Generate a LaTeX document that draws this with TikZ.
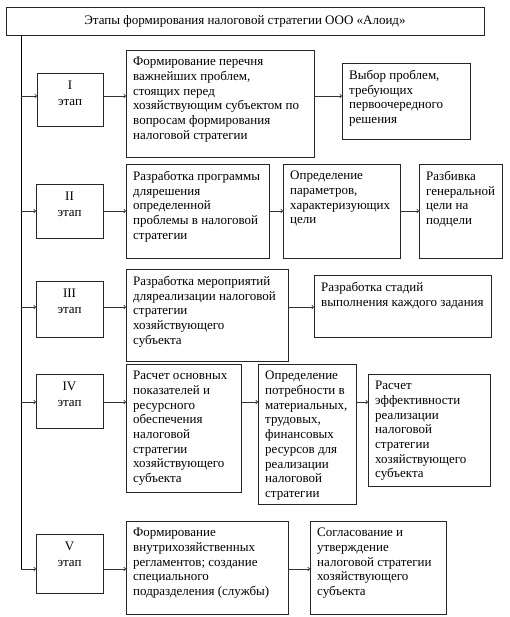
\documentclass[tikz,border=0pt]{standalone}
\usepackage{fontspec}
\setmainfont{Liberation Serif}
\usetikzlibrary{arrows.meta}
\tikzset{
  box/.style={draw=black!85, line width=0.8pt, inner sep=0pt, outer sep=0pt},
  txt/.style={inner sep=0pt, align=left, anchor=north west, font=\fontsize{13}{14.7}\selectfont},
  stg/.style={inner sep=0pt, align=center, anchor=north, font=\fontsize{13}{15.3}\selectfont},
  arr/.style={draw=black!80, line width=0.7pt, -{To[length=2.5pt,width=4.5pt]}},
  trunk/.style={draw=black, line width=0.9pt}
}
\newcommand\bx[6]{%
  \node[box,anchor=north west,minimum width={(#4-#2)*1pt},minimum height={(#5-#3)*1pt}] (#1) at (#2,#3) {};
  \node[txt] (#1t) at ([xshift=7pt,yshift=-7pt]#1.north west) {#6};}
\newcommand\sbx[6]{%
  \node[box,anchor=north west,minimum width={(#4-#2)*1pt},minimum height={(#5-#3)*1pt}] (#1) at (#2,#3) {};
  \node[stg] (#1t) at ([yshift=-8pt]#1.north) {#6};}
\begin{document}
\begin{tikzpicture}[x=1pt,y=-1pt]
\useasboundingbox (0,0) rectangle (509,617);
% title
\node[box,anchor=north west,minimum width=478pt,minimum height=28pt,font=\fontsize{13}{15.3}\selectfont] (title) at (6,7) {Этапы формирования налоговой стратегии ООО «Алоид»};
% trunk
\coordinate (top) at (21,35);
\coordinate (bot) at (21,569);
\coordinate (r1) at (21,96);
\coordinate (r2) at (21,211);
\coordinate (r3) at (21,307);
\coordinate (r4) at (21,402);
% row I
\sbx{s1}{37}{73}{103}{126}{I\\этап}
\bx{a1}{126}{50}{314}{157}{Формирование перечня\\важнейших проблем,\\стоящих перед\\хозяйствующим субъектом по\\вопросам формирования\\налоговой стратегии}
\bx{b1}{342}{63}{470}{139}{Выбор проблем,\\требующих\\первоочередного\\решения}
% row II
\sbx{s2}{36}{184}{103}{238}{II\\этап}
\bx{a2}{126}{164}{269}{258}{Разработка программы\\длярешения\\определенной\\проблемы в налоговой\\стратегии}
\bx{b2}{283}{164}{400}{258}{Определение\\параметров,\\характеризующих\\цели}
\bx{c2}{419}{164}{502}{258}{Разбивка\\генеральной\\цели на\\подцели}
% row III
\sbx{s3}{36}{281}{103}{337}{III\\этап}
\bx{a3}{126}{269}{288}{361}{Разработка мероприятий\\дляреализации налоговой\\стратегии\\хозяйствующего\\субъекта}
\bx{b3}{314}{275}{491}{337}{Разработка стадий\\выполнения каждого задания}
% row IV
\sbx{s4}{36}{374}{103}{428}{IV\\этап}
\bx{a4}{126}{364}{241}{492}{Расчет основных\\показателей и\\ресурсного\\обеспечения\\налоговой\\стратегии\\хозяйствующего\\субъекта}
\bx{b4}{258}{364}{356}{504}{Определение\\потребности в\\материальных,\\трудовых,\\финансовых\\ресурсов для\\реализации\\налоговой\\стратегии}
\bx{c4}{368}{374}{490}{486}{Расчет\\эффективности\\реализации\\налоговой\\стратегии\\хозяйствующего\\субъекта}
% row V
\sbx{s5}{36}{534}{103}{593}{V\\этап}
\bx{a5}{126}{521}{288}{614}{Формирование\\внутрихозяйственных\\регламентов; создание\\специального\\подразделения (службы)}
\bx{b5}{310}{521}{446}{614}{Согласование и\\утверждение\\налоговой стратегии\\хозяйствующего\\субъекта}
% connectors
\draw[trunk] (top) -- (bot);
\draw[arr] (r1) -- (r1 -| s1.west);
\draw[arr] (r2) -- (r2 -| s2.west);
\draw[arr] (r3) -- (r3 -| s3.west);
\draw[arr] (r4) -- (r4 -| s4.west);
\draw[arr] (bot) -- (bot -| s5.west);
\draw[arr] (s1.east |- r1) -- (a1.west |- r1);
\draw[arr] (a1.east |- r1) -- (b1.west |- r1);
\draw[arr] (s2.east |- r2) -- (a2.west |- r2);
\draw[arr] (a2.east |- r2) -- (b2.west |- r2);
\draw[arr] (b2.east |- r2) -- (c2.west |- r2);
\draw[arr] (s3.east |- r3) -- (a3.west |- r3);
\draw[arr] (a3.east |- r3) -- (b3.west |- r3);
\draw[arr] (s4.east |- r4) -- (a4.west |- r4);
\draw[arr] (a4.east |- r4) -- (b4.west |- r4);
\draw[arr] (b4.east |- r4) -- (c4.west |- r4);
\draw[arr] (s5.east |- bot) -- (a5.west |- bot);
\draw[arr] (a5.east |- bot) -- (b5.west |- bot);
\end{tikzpicture}
\end{document}
